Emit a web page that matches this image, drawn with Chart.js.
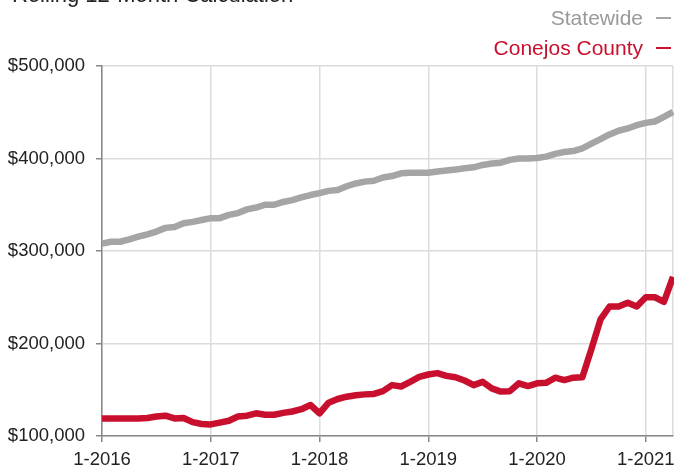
<!DOCTYPE html>
<html>
<head>
<meta charset="utf-8">
<script src="https://cdn.jsdelivr.net/npm/chart.js@4.4.1/dist/chart.umd.min.js"></script>
<style>
  html, body { margin: 0; padding: 0; background: #fff; }
  #wrap { position: relative; width: 674px; height: 468px; }
</style>
</head>
<body>
<div id="wrap"><canvas id="chart" width="674" height="468"></canvas></div>
<script>
// Rolling 12-month median price, Jan 2016 - Apr 2021
const startYear = 2016;
const monthCount = 64;
const months = [];
for (let i = 0; i < monthCount; i++) {
    months.push((i % 12 + 1) + '-' + (startYear + Math.floor(i / 12)));
}

const statewide = [
    308000, 310000, 310000, 312500, 315500, 318000, 321000, 325000, 326000, 330000, 331500, 333500,
    335500, 335500, 339000, 341000, 345000, 347000, 350000, 350000, 353000, 355000, 358000, 360500,
    362500, 365000, 366000, 370000, 373000, 375000, 376000, 379500, 381000, 384000, 384500, 384500,
    384500, 386000, 387000, 388000, 389500, 390500, 393000, 394500, 395500, 398500, 400000, 400000,
    400500, 402000, 405000, 407000, 408000, 411000, 416000, 421000, 426000, 430000, 432500, 436000,
    438500, 440000, 445000, 450500
];

const conejos = [
    119000, 119000, 119000, 118800, 119000, 119500, 121000, 122000, 119000, 119500, 115000, 113000,
    112500, 114500, 116500, 121000, 122000, 124500, 123000, 123000, 125000, 126500, 129000, 133500,
    124500, 136000, 140000, 142500, 144000, 145000, 145500, 148500, 155000, 153500, 158500, 164000,
    166500, 168000, 165000, 163500, 160000, 155000, 158500, 151500, 148000, 148500, 157000, 154000,
    157000, 157500, 163000, 160500, 163000, 163500, 194000, 226000, 240000, 240000, 244000, 240000,
    250000, 250000, 245000, 272000
];

const yTicks = [100000, 200000, 300000, 400000, 500000];
const seriesNames = ['Statewide', 'Conejos County'];
const titleText = 'Rolling 12-Month Calculation';

const GRAY = '#a5a5a5';
const RED = '#c8102e';
const FONT = "'Liberation Sans', Arial, Helvetica, sans-serif";

// title (cut off at the top) and the right-aligned legend with trailing dash
const headerPlugin = {
    id: 'header',
    afterDraw(chart) {
        const c = chart.ctx;
        c.save();
        c.textBaseline = 'alphabetic';
        c.font = '22px ' + FONT;
        c.fillStyle = '#222';
        c.textAlign = 'left';
        c.fillText(titleText, 12, 2);

        c.font = '21px ' + FONT;
        c.textAlign = 'right';
        const rows = [
            { text: seriesNames[0], color: '#999', line: GRAY, y: 25 },
            { text: seriesNames[1], color: RED, line: RED, y: 55 }
        ];
        rows.forEach(r => {
            c.fillStyle = r.color;
            c.fillText(r.text, 643, r.y);
            c.strokeStyle = r.line;
            c.lineWidth = 2;
            c.beginPath();
            c.moveTo(656, r.y - 7);
            c.lineTo(671, r.y - 7);
            c.stroke();
        });
        c.restore();
    }
};

new Chart(document.getElementById('chart'), {
    type: 'line',
    data: {
        labels: months,
        datasets: [
            {
                label: seriesNames[0],
                data: statewide,
                borderColor: GRAY,
                borderWidth: 6.5,
                pointRadius: 0,
                tension: 0,
                borderJoinStyle: 'round'
            },
            {
                label: seriesNames[1],
                data: conejos,
                borderColor: RED,
                borderWidth: 6.5,
                pointRadius: 0,
                tension: 0,
                borderJoinStyle: 'round'
            }
        ]
    },
    options: {
        responsive: false,
        animation: false,
        layout: { padding: { top: 66, right: 1, left: 0, bottom: 0 } },
        plugins: {
            legend: { display: false },
            tooltip: { enabled: false }
        },
        scales: {
            x: {
                offset: false,
                afterFit: s => {
                    s.height = 32;
                    s.paddingLeft = 0;
                    s.paddingRight = 0;
                },
                ticks: {
                    autoSkip: false,
                    maxRotation: 0,
                    padding: 7,
                    color: '#222',
                    font: { family: FONT, size: 18.5 },
                    callback: (v, i) => (i % 12 === 0 ? months[i] : '')
                },
                grid: {
                    color: ctx => (ctx.index % 12 === 0 || ctx.index === monthCount - 1 ? '#dcdcdc' : 'rgba(0,0,0,0)'),
                    tickColor: ctx => (ctx.index % 12 === 0 ? '#888' : 'rgba(0,0,0,0)'),
                    tickLength: 6,
                    lineWidth: 1.5
                },
                border: { color: '#888', width: 1.5 }
            },
            y: {
                min: yTicks[0],
                max: yTicks[yTicks.length - 1],
                afterFit: s => { s.width = 102; },
                afterBuildTicks: s => { s.ticks = yTicks.map(v => ({ value: v })); },
                ticks: {
                    padding: 11,
                    color: '#222',
                    font: { family: FONT, size: 18.5 },
                    callback: v => '$' + v.toLocaleString('en-US')
                },
                grid: { color: '#dcdcdc', tickColor: '#888', tickLength: 6, lineWidth: 1.5 },
                border: { color: '#888', width: 1.5 }
            }
        }
    },
    plugins: [headerPlugin]
});
</script>
</body>
</html>
